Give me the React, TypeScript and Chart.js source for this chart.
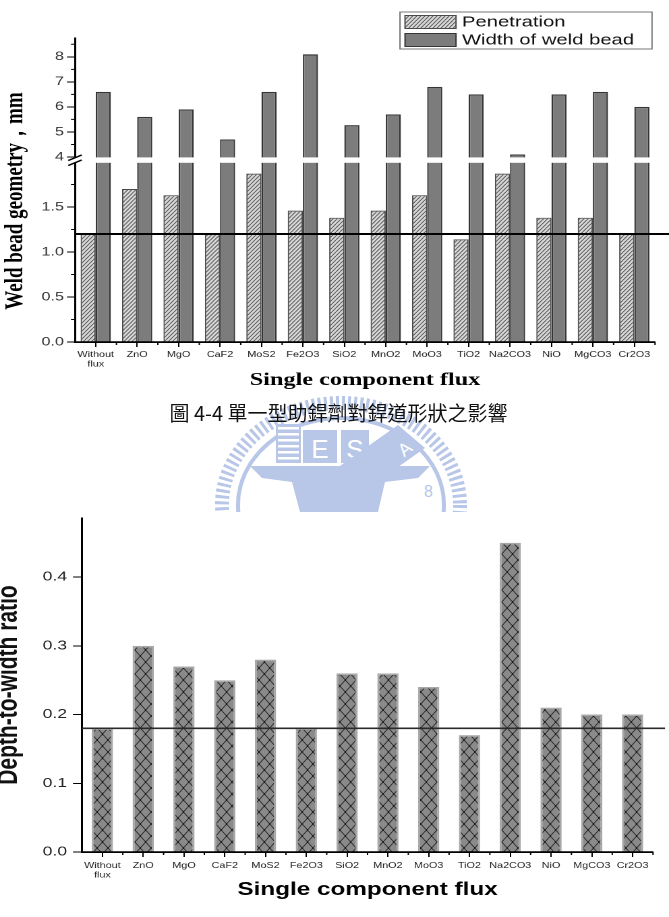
import React, { useEffect, useRef } from 'react';
import { Chart, registerables } from 'chart.js';

Chart.register(...registerables);

// ---------------- data ----------------
const fluxCategories: (string | string[])[] = [
  ['Without', 'flux'], 'ZnO', 'MgO', 'CaF2', 'MoS2', 'Fe2O3', 'SiO2',
  'MnO2', 'MoO3', 'TiO2', 'Na2CO3', 'NiO', 'MgCO3', 'Cr2O3',
];
const penetration = [1.2, 1.7, 1.63, 1.2, 1.87, 1.46, 1.38, 1.46, 1.63, 1.14, 1.87, 1.38, 1.38, 1.2];
const beadWidth = [6.6, 5.6, 5.9, 4.7, 6.6, 8.1, 5.27, 5.7, 6.8, 6.5, 4.1, 6.5, 6.6, 6.0];
const depthToWidth = [0.18, 0.3, 0.27, 0.25, 0.28, 0.18, 0.26, 0.26, 0.24, 0.17, 0.45, 0.21, 0.2, 0.2];
const seriesNames = ['Penetration', 'Width of weld bead'];
const ratioSeriesName = 'Depth-to-width ratio';
const penetrationBaseline = 1.2;
const ratioBaseline = 0.18;
const upperTicks = [4, 5, 6, 7, 8];
const lowerTicks = [0, 0.5, 1.0, 1.5];
const ratioTicks = [0, 0.1, 0.2, 0.3, 0.4];
const upperAxisRange = [3.88, 8.75];
const lowerAxisRange = [0, 2.022];
const ratioAxisRange = [0, 0.486];
const topYTitle = 'Weld bead geometry，mm';
const xTitle = 'Single component flux';
const bottomYTitle = 'Depth-to-width ratio';
const caption = '圖 4-4 單一型助銲劑對銲道形狀之影響';

// ---------------- layout ----------------
const PAGE_W = 669;
const LOGICAL_W = 496;
const SX = PAGE_W / LOGICAL_W; // the figure is stretched horizontally
const lx = (x: number) => x / SX;
const TOP_H = 400;
const BOTTOM_TOP = 500;
const BOTTOM_H = 417;

function makePattern(ctx: CanvasRenderingContext2D, w: number, h: number, draw: (g: CanvasRenderingContext2D, w: number, h: number) => void) {
  const k = 4;
  const c = document.createElement('canvas');
  c.width = Math.round(w * k);
  c.height = Math.round(h * k);
  const g = c.getContext('2d')!;
  g.scale(k, k);
  draw(g, w, h);
  const p = ctx.createPattern(c, 'repeat')!;
  p.setTransform(new DOMMatrix().scale(1 / k));
  return p;
}

const hatchDraw = (g: CanvasRenderingContext2D, w: number, h: number) => {
  g.fillStyle = '#d8d8d8';
  g.fillRect(0, 0, w, h);
  g.strokeStyle = '#555';
  g.lineWidth = 0.75;
  g.beginPath();
  for (const dx of [-w, 0, w]) {
    g.moveTo(dx, h);
    g.lineTo(dx + w, 0);
  }
  g.stroke();
};

const crossDraw = (g: CanvasRenderingContext2D, w: number, h: number) => {
  g.fillStyle = '#8a8a8a';
  g.fillRect(0, 0, w, h);
  g.strokeStyle = '#1c1c1c';
  g.lineWidth = 0.6;
  g.beginPath();
  for (const dx of [-w, 0, w]) {
    g.moveTo(dx, 0);
    g.lineTo(dx + w, h);
    g.moveTo(dx + w, 0);
    g.lineTo(dx, h);
  }
  g.stroke();
  g.fillStyle = '#000';
  for (const [px, py] of [[w / 2, h / 2], [0, 0], [w, 0], [0, h], [w, h]]) {
    g.beginPath();
    g.arc(px, py, 0.55, 0, Math.PI * 2);
    g.fill();
  }
};

// ---------------- plugins ----------------
const sectionClip = {
  id: 'sectionClip',
  beforeDatasetDraw(chart: any, args: any) {
    const ys = chart.scales[args.meta.yAxisID];
    const ca = chart.chartArea;
    chart.ctx.save();
    chart.ctx.beginPath();
    chart.ctx.rect(ca.left, ys.top, ca.right - ca.left, ys.bottom - ys.top);
    chart.ctx.clip();
  },
  afterDatasetDraw(chart: any) {
    chart.ctx.restore();
  },
};

const axisBreak = {
  id: 'axisBreak',
  afterDatasetsDraw(chart: any) {
    const ctx = chart.ctx;
    const yb = chart.scales.yTop.bottom;
    const left = chart.chartArea.left;
    ctx.save();
    ctx.fillStyle = '#fff';
    ctx.fillRect(left - 1.2, yb - 2.6, chart.chartArea.right - left + 3, 5.4);
    ctx.strokeStyle = '#000';
    ctx.lineWidth = 1.3;
    ctx.beginPath();
    ctx.moveTo(left - 5, yb + 0.5);
    ctx.lineTo(left + 5, yb - 5);
    ctx.moveTo(left - 5, yb + 5.5);
    ctx.lineTo(left + 5, yb);
    ctx.stroke();
    ctx.restore();
  },
};

const refLine = (id: string, scaleId: string, value: number, endX: number, color: string, width: number) => ({
  id,
  afterDatasetsDraw(chart: any) {
    const y = chart.scales[scaleId].getPixelForValue(value);
    const ctx = chart.ctx;
    ctx.save();
    ctx.strokeStyle = color;
    ctx.lineWidth = width;
    ctx.beginPath();
    ctx.moveTo(chart.chartArea.left, y);
    ctx.lineTo(endX, y);
    ctx.stroke();
    ctx.restore();
  },
});

const minorTicks = (id: string, yScaleIds: string[], yLen: number, xLen: number) => ({
  id,
  afterDatasetsDraw(chart: any) {
    const ctx = chart.ctx;
    const ca = chart.chartArea;
    ctx.save();
    ctx.strokeStyle = '#000';
    ctx.lineWidth = 1;
    ctx.beginPath();
    for (const sid of yScaleIds) {
      const s = chart.scales[sid];
      const t = s.ticks.map((k: any) => k.value);
      const step = t[1] - t[0];
      for (let v = t[0] - step / 2; v <= s.max + 1e-9; v += step) {
        if (v < s.min) continue;
        const y = s.getPixelForValue(v);
        ctx.moveTo(ca.left, y);
        ctx.lineTo(ca.left - yLen, y);
      }
    }
    const n = chart.data.labels.length;
    const cw = (ca.right - ca.left) / n;
    for (let i = 1; i <= n; i++) {
      const x = ca.left + i * cw;
      ctx.moveTo(x, ca.bottom);
      ctx.lineTo(x, ca.bottom + xLen);
    }
    ctx.stroke();
    ctx.lineWidth = 1.5;
    ctx.beginPath();
    ctx.moveTo(ca.left - 0.75, ca.bottom);
    ctx.lineTo(ca.right, ca.bottom);
    ctx.stroke();
    ctx.restore();
  },
});

const boxLegend = {
  id: 'boxLegend',
  afterDraw(chart: any) {
    const ctx = chart.ctx;
    const ds = chart.data.datasets;
    const x0 = lx(400);
    const x1 = lx(652);
    const y0 = 12;
    const h = 37;
    ctx.save();
    ctx.fillStyle = '#fff';
    ctx.fillRect(x0, y0, x1 - x0, h);
    ctx.strokeStyle = '#777';
    ctx.lineWidth = 1;
    ctx.strokeRect(x0, y0, x1 - x0, h);
    [ds[0], ds[1]].forEach((d: any, i: number) => {
      const sy = y0 + 3.5 + i * 18;
      const sx0 = lx(405);
      const sx1 = lx(456);
      ctx.fillStyle = d.backgroundColor;
      ctx.fillRect(sx0, sy, sx1 - sx0, 13);
      ctx.strokeStyle = d.borderColor;
      ctx.lineWidth = 1;
      ctx.strokeRect(sx0, sy, sx1 - sx0, 13);
      ctx.fillStyle = '#111';
      ctx.font = '15px "Liberation Sans"';
      ctx.textBaseline = 'middle';
      ctx.textAlign = 'left';
      ctx.fillText(d.label, lx(462), sy + 7);
    });
    ctx.restore();
  },
};

const xTickFont = { family: 'Liberation Sans', size: 8 };

function createTop(canvas: HTMLCanvasElement) {
  const ctx = canvas.getContext('2d')!;
  const hatch = makePattern(ctx, 3, 4, hatchDraw);
  const titleLineH = 19 * 1.2;
  const yAxisW = lx(75) - titleLineH;
  const yCommon = {
    type: 'linear' as const,
    position: 'left' as const,
    stack: 'geom',
    stacked: false,
    grid: { drawOnChartArea: false, tickLength: 6, color: '#000', lineWidth: 1 },
    border: { color: '#000', width: 1.5 },
    afterFit: (s: any) => { s.width = yAxisW; },
  };
  return new Chart(canvas, {
    type: 'bar',
    data: {
      labels: fluxCategories as any,
      datasets: [
        { label: seriesNames[0], data: penetration, yAxisID: 'yBot', stack: 'pen', backgroundColor: hatch as any, borderColor: '#4a4a4a', borderWidth: 1 },
        { label: seriesNames[1], data: beadWidth, yAxisID: 'yBot', stack: 'wid', backgroundColor: '#7c7c7c', borderColor: '#353535', borderWidth: 1.2 },
        { label: seriesNames[1], data: beadWidth, yAxisID: 'yTop', stack: 'wid', backgroundColor: '#7c7c7c', borderColor: '#353535', borderWidth: 1.2 },
      ],
    },
    options: {
      responsive: false,
      animation: false,
      devicePixelRatio: 2,
      events: [],
      layout: { padding: { left: 0, top: 2, right: LOGICAL_W - lx(655), bottom: 0 } },
      datasets: { bar: { categoryPercentage: 0.73, barPercentage: 1 } },
      plugins: {
        legend: { display: false },
        tooltip: { enabled: false },
        title: {
          display: true,
          position: 'left',
          fullSize: true,
          text: topYTitle,
          color: '#000',
          font: { family: 'Liberation Serif', size: 19, weight: 'bold', lineHeight: 1.2 },
          padding: { top: 0, bottom: 0 },
        },
        // empty spacer above the plot (legend is drawn by boxLegend)
        subtitle: {
          display: true,
          position: 'top',
          text: ' ',
          font: { size: 10, lineHeight: 1.2 },
          padding: { top: 24, bottom: 0 },
        },
      },
      scales: {
        x: {
          type: 'category',
          offset: true,
          grid: { offset: false, drawOnChartArea: false, tickLength: 5, color: '#000', lineWidth: 1 },
          border: { color: '#000', width: 1.5 },
          ticks: { font: xTickFont, color: '#222', padding: 3, maxRotation: 0, autoSkip: false },
          title: {
            display: true,
            text: xTitle,
            color: '#000',
            font: { family: 'Liberation Serif', size: 18, weight: 'bold', lineHeight: 1.2 },
            padding: { top: 0, bottom: 9 },
          },
          afterFit: (s: any) => { s.height = 58; },
        },
        yTop: {
          ...yCommon,
          weight: 2,
          stackWeight: 122,
          min: upperAxisRange[0],
          max: upperAxisRange[1],
          afterBuildTicks: (s: any) => { s.ticks = upperTicks.map((v) => ({ value: v })); },
          ticks: { font: { family: 'Liberation Sans', size: 12 }, color: '#333', padding: 2.2, callback: (v: any) => String(v) },
        },
        yBot: {
          ...yCommon,
          weight: 1,
          stackWeight: 182,
          min: lowerAxisRange[0],
          max: lowerAxisRange[1],
          afterBuildTicks: (s: any) => { s.ticks = lowerTicks.map((v) => ({ value: v })); },
          ticks: { font: { family: 'Liberation Sans', size: 12 }, color: '#333', padding: 2.2, callback: (v: any) => Number(v).toFixed(1) },
        },
      } as any,
    },
    plugins: [
      sectionClip,
      axisBreak,
      refLine('refTop', 'yBot', penetrationBaseline, LOGICAL_W, '#000', 2),
      minorTicks('minorTop', ['yTop', 'yBot'], 3, 3),
      boxLegend,
    ],
  });
}

function createBottom(canvas: HTMLCanvasElement) {
  const ctx = canvas.getContext('2d')!;
  const cross = makePattern(ctx, 8, 12, crossDraw);
  const padLeft = -4;
  return new Chart(canvas, {
    type: 'bar',
    data: {
      labels: fluxCategories as any,
      datasets: [
        { label: ratioSeriesName, data: depthToWidth, backgroundColor: cross as any, borderColor: '#a8a8a8', borderWidth: 1.5, barPercentage: 0.52, categoryPercentage: 1 },
      ],
    },
    options: {
      responsive: false,
      animation: false,
      devicePixelRatio: 2,
      events: [],
      layout: { padding: { left: padLeft, top: 18, right: LOGICAL_W - lx(653), bottom: 0 } },
      plugins: { legend: { display: false }, tooltip: { enabled: false } },
      scales: {
        x: {
          type: 'category',
          offset: true,
          grid: { offset: false, drawOnChartArea: false, tickLength: 5, color: '#000', lineWidth: 1 },
          border: { color: '#000', width: 1.5 },
          ticks: { font: xTickFont, color: '#222', padding: 4, maxRotation: 0, autoSkip: false },
          title: {
            display: true,
            text: xTitle,
            color: '#000',
            font: { family: 'Liberation Sans', size: 18, weight: 'bold', lineHeight: 1.2 },
            padding: { top: 0, bottom: 16 },
          },
          afterFit: (s: any) => { s.height = 65; },
        },
        y: {
          type: 'linear',
          min: ratioAxisRange[0],
          max: ratioAxisRange[1],
          afterBuildTicks: (s: any) => { s.ticks = ratioTicks.map((v) => ({ value: v })); },
          afterFit: (s: any) => { s.width = lx(82) - padLeft; },
          grid: { drawOnChartArea: false, tickLength: 6.7, color: '#000', lineWidth: 1 },
          border: { color: '#000', width: 1.5 },
          ticks: { font: { family: 'Liberation Sans', size: 13 }, color: '#222', padding: 4.4, callback: (v: any) => Number(v).toFixed(1) },
          title: {
            display: true,
            text: bottomYTitle,
            color: '#111',
            font: { family: 'Liberation Sans', size: 21, weight: 'bold', lineHeight: 1 },
            padding: { top: 0, bottom: 0 },
          },
        },
      } as any,
    },
    plugins: [
      refLine('refBottom', 'y', ratioBaseline, lx(665), '#2a2a2a', 1.6),
      minorTicks('minorBottom', [], 0, 3),
    ],
  });
}

function Watermark() {
  const c = '#b8c7e7';
  return (
    <svg width={669} height={917} style={{ position: 'absolute', left: 0, top: 0 }}>
      <defs>
        <clipPath id="wm-clip">
          <rect x={0} y={385} width={669} height={127} />
        </clipPath>
      </defs>
      <g clipPath="url(#wm-clip)">
        <ellipse cx={341} cy={505} rx={119} ry={102} fill="none" stroke={c} strokeWidth={14} strokeDasharray="3 3" />
        <ellipse cx={341} cy={505} rx={103} ry={87} fill="none" stroke={c} strokeWidth={4} />
        <rect x={276} y={424} width={25} height={39} fill={c} />
        {[0, 1, 2, 3, 4, 5].map((i) => (
          <rect key={i} x={278} y={427 + i * 6} width={21} height={2.5} fill="#fff" />
        ))}
        <rect x={303} y={430} width={34} height={33} fill={c} />
        <text x={320} y={458} fill="#fff" fontSize={26} fontFamily="Liberation Sans" textAnchor="middle">E</text>
        <rect x={341} y={430} width={28} height={33} fill={c} />
        <text x={355} y={458} fill="#fff" fontSize={26} fontFamily="Liberation Sans" textAnchor="middle">S</text>
        <polygon points="398,425 425,448 330,515 303,492" fill={c} />
        <text x={405} y={455} fill="#fff" fontSize={18} fontFamily="Liberation Sans" textAnchor="middle" transform="rotate(-40 405 449)">A</text>
        <path d="M250 466 L430 466 L418 478 L385 482 L378 512 L300 512 L292 482 L262 478 Z" fill={c} />
        <text x={424} y={497} fill={c} fontSize={16} fontFamily="Liberation Sans">8</text>
      </g>
    </svg>
  );
}

export default function App() {
  const topRef = useRef<HTMLCanvasElement>(null);
  const botRef = useRef<HTMLCanvasElement>(null);

  useEffect(() => {
    const charts = [createTop(topRef.current!), createBottom(botRef.current!)];
    return () => charts.forEach((ch) => ch.destroy());
  }, []);

  const wrap = (top: number, h: number): React.CSSProperties => ({
    position: 'absolute',
    left: 0,
    top,
    width: LOGICAL_W,
    height: h,
    transform: `scaleX(${SX})`,
    transformOrigin: '0 0',
  });

  return (
    <div style={{ position: 'absolute', left: 0, top: 0, width: PAGE_W, height: 917, background: '#fff', overflow: 'hidden' }}>
      <Watermark />
      <div style={wrap(0, TOP_H)}>
        <canvas ref={topRef} width={LOGICAL_W} height={TOP_H} />
      </div>
      <div
        style={{
          position: 'absolute',
          left: 4,
          top: 401,
          width: PAGE_W,
          textAlign: 'center',
          fontFamily: '"Noto Sans CJK TC", "Liberation Serif", serif',
          fontSize: 20,
          lineHeight: '24px',
          color: '#111',
        }}
      >
        {caption}
      </div>
      <div style={wrap(BOTTOM_TOP, BOTTOM_H)}>
        <canvas ref={botRef} width={LOGICAL_W} height={BOTTOM_H} />
      </div>
    </div>
  );
}
